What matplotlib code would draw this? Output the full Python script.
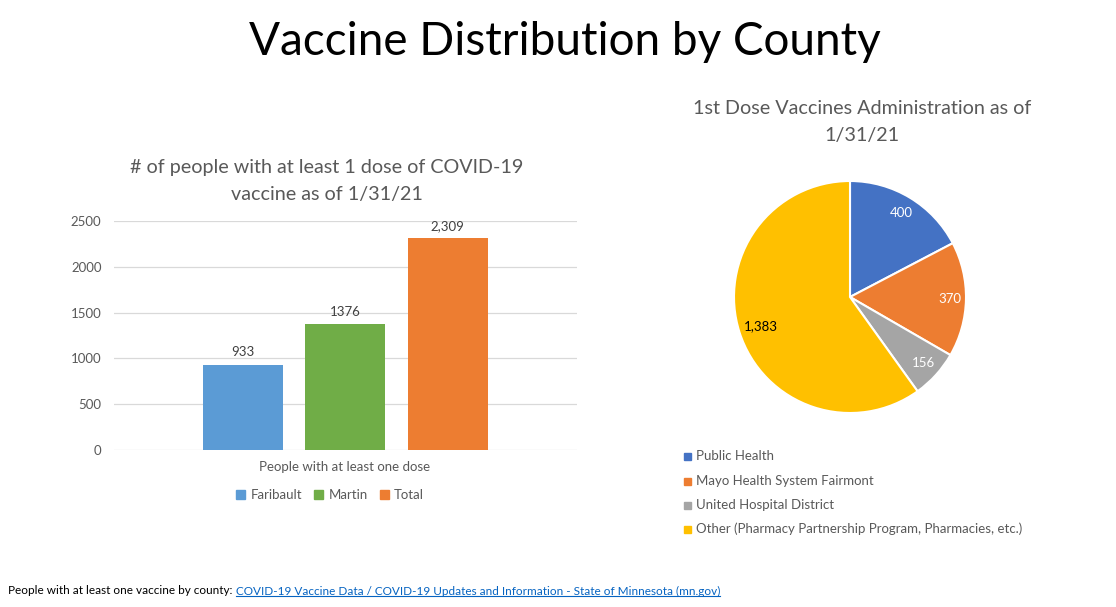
import matplotlib
matplotlib.use("Agg")
import matplotlib.pyplot as plt
from matplotlib.patches import Rectangle
from matplotlib.lines import Line2D
import numpy as np

plt.rcParams['font.family'] = ['Lato', 'DejaVu Sans']

# ---- data ----
bar_series = ["Faribault", "Martin", "Total"]
bar_values = [933, 1376, 2309]
bar_labels = ["933", "1376", "2,309"]
bar_colors = ["#5B9BD5", "#70AD47", "#ED7D31"]
bar_category = "People with at least one dose"
y_ticks = [0, 500, 1000, 1500, 2000, 2500]

pie_labels = ["Public Health", "Mayo Health System Fairmont",
              "United Hospital District",
              "Other (Pharmacy Partnership Program, Pharmacies, etc.)"]
pie_values = [400, 370, 156, 1383]
pie_value_text = ["400", "370", "156", "1,383"]
pie_colors = ["#4472C4", "#ED7D31", "#A5A5A5", "#FFC000"]
pie_text_colors = ["white", "white", "white", "black"]

W, H = 1116, 607
fig = plt.figure(figsize=(W / 100, H / 100), dpi=100)
fig.patch.set_facecolor("white")

def fx(px):
    return px / W

def fy(py):
    return (H - py) / H

GRAY = "#595959"

# main title
fig.text(fx(565), fy(42), "Vaccine Distribution by County", ha="center", va="center",
         fontsize=33, color="black")

# ---- bar chart ----
axb = fig.add_axes([fx(114), fy(450), fx(577) - fx(114), fy(221) - fy(450)])
x = list(range(len(bar_values)))
axb.bar(x, bar_values, width=0.78, color=bar_colors, zorder=3)
axb.set_xlim(-1.254, 3.263)
axb.set_ylim(0, 2500)
axb.set_yticks(y_ticks)
axb.set_yticklabels([str(t) for t in y_ticks], color=GRAY, fontsize=9.5)
axb.tick_params(axis="y", length=0, pad=9)
axb.set_xticks([])
axb.grid(axis="y", color="#D9D9D9", linewidth=0.9, zorder=0)
for s in axb.spines.values():
    s.set_visible(False)
for xi, v, t in zip(x, bar_values, bar_labels):
    axb.text(xi, v + 70, t, ha="center", va="bottom", fontsize=9.5, color="#404040")
fig.text(fx(327), fy(181), "# of people with at least 1 dose of COVID-19\nvaccine as of 1/31/21",
         ha="center", va="center", fontsize=14.2, color=GRAY, linespacing=1.65)
fig.text(fx(345), fy(467), bar_category, ha="center", va="center", fontsize=9.5, color=GRAY)
handles = [Rectangle((0, 0), 1, 1, color=c) for c in bar_colors]
fig.legend(handles, bar_series, loc="center", bbox_to_anchor=(fx(330), fy(495)), ncol=3,
           frameon=False, fontsize=9.5, labelcolor=GRAY, handlelength=0.7,
           handleheight=0.7, handletextpad=0.4, columnspacing=0.9)

# ---- pie chart ----
r = 116
axp = fig.add_axes([fx(850 - r), fy(297 + r), 2 * r / W, 2 * r / H])
wedges, _ = axp.pie(pie_values, colors=pie_colors, startangle=90, counterclock=False,
                    radius=1.0, wedgeprops=dict(edgecolor="white", linewidth=1.5))
axp.set_xlim(-1, 1)
axp.set_ylim(-1, 1)
axp.set_aspect("auto")
total = sum(pie_values)
start = 90.0
label_r = [0.85, 0.86, 0.85, 0.81]
for v, t, c, lr in zip(pie_values, pie_value_text, pie_text_colors, label_r):
    span = 360.0 * v / total
    mid = np.deg2rad(start - span / 2)
    axp.text(lr * np.cos(mid), lr * np.sin(mid), t, ha="center", va="center",
             fontsize=9.5, color=c)
    start -= span

fig.text(fx(862), fy(122), "1st Dose Vaccines Administration as of\n1/31/21", ha="center",
         va="center", fontsize=14.2, color=GRAY, linespacing=1.65)

for i, (lab, c) in enumerate(zip(pie_labels, pie_colors)):
    yy = [456, 481, 505, 529][i]
    fig.patches.append(Rectangle((fx(684), fy(yy) - 3.5 / H), 7 / W, 7 / H,
                                 transform=fig.transFigure, color=c))
    fig.text(fx(696), fy(yy), lab, ha="left", va="center", fontsize=9.5, color=GRAY)

# ---- footer ----
t1 = fig.text(fx(8), fy(591), "People with at least one vaccine by county: ", ha="left",
              va="center", fontsize=8.45, color="black")
fig.canvas.draw()
rend = fig.canvas.get_renderer()
bb = t1.get_window_extent(rend)
t2 = fig.text(bb.x1 / W, fy(591),
              "COVID-19 Vaccine Data / COVID-19 Updates and Information - State of Minnesota (mn.gov)",
              ha="left", va="center", fontsize=8.45, color="#0563C1")
fig.canvas.draw()
bb2 = t2.get_window_extent(rend)
fig.add_artist(Line2D([bb2.x0 / W, bb2.x1 / W], [(bb2.y0 + 0.5) / H] * 2,
                      transform=fig.transFigure, color="#0563C1", linewidth=0.8))

fig.savefig("out.png", dpi=100, facecolor="white")
